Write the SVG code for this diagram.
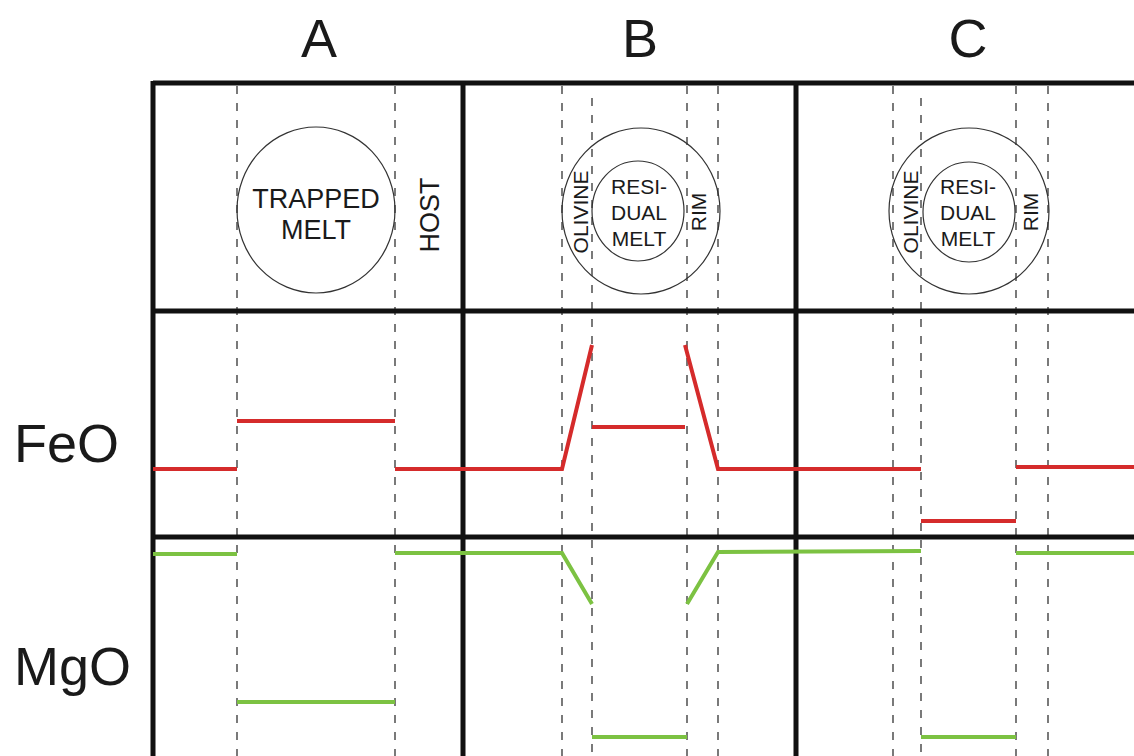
<svg xmlns="http://www.w3.org/2000/svg" width="1134" height="756" viewBox="0 0 1134 756">
<style>
text{font-family:"Liberation Sans",Arial,sans-serif;fill:#1a1a1a}
.hdr{font-size:54px;text-anchor:middle}
.lab{font-size:54px}
.big{font-size:27px;text-anchor:middle}
.sm{font-size:21px;text-anchor:middle}
.frame{stroke:#111;stroke-width:5;fill:none}
.dash{stroke:#333;stroke-width:1.3;stroke-dasharray:8 9;fill:none}
.circ{stroke:#333;stroke-width:1.2;fill:none}
.fe{stroke:#d52b2b;stroke-width:4;fill:none}
.mg{stroke:#7cc242;stroke-width:4;fill:none}
</style>
<rect width="1134" height="756" fill="#fff"/>
<g id="labels">
<text class="hdr" x="319" y="57">A</text>
<text class="hdr" x="640" y="57">B</text>
<text class="hdr" x="968" y="57">C</text>
<text class="lab" x="14" y="462">FeO</text>
<text class="lab" x="14" y="685">MgO</text>
</g>
<g id="dashes">
<line class="dash" x1="237" y1="86" x2="237" y2="756"/>
<line class="dash" x1="395" y1="86" x2="395" y2="756"/>
<line class="dash" x1="562" y1="86" x2="562" y2="756"/>
<line class="dash" x1="592" y1="98" x2="592" y2="756"/>
<line class="dash" x1="687" y1="86" x2="687" y2="756"/>
<line class="dash" x1="718" y1="86" x2="718" y2="756"/>
<line class="dash" x1="893" y1="86" x2="893" y2="756"/>
<line class="dash" x1="921" y1="98" x2="921" y2="756"/>
<line class="dash" x1="1016" y1="86" x2="1016" y2="756"/>
<line class="dash" x1="1048" y1="86" x2="1048" y2="756"/>
</g>
<g id="frame">
<line class="frame" x1="153" y1="83" x2="1134" y2="83"/>
<line class="frame" x1="153" y1="311" x2="1134" y2="311"/>
<line class="frame" x1="153" y1="537" x2="1134" y2="537"/>
<line class="frame" x1="153" y1="81" x2="153" y2="756"/>
<line class="frame" x1="463" y1="81" x2="463" y2="756"/>
<line class="frame" x1="796" y1="81" x2="796" y2="756"/>
</g>
<g id="nodeA">
<ellipse class="circ" cx="316" cy="210" rx="79" ry="83"/>
<text class="big" x="316" y="208">TRAPPED</text>
<text class="big" x="316" y="239">MELT</text>
<text class="big" transform="translate(439,215) rotate(-90)">HOST</text>
</g>
<g id="nodeB">
<ellipse class="circ" cx="641" cy="211" rx="79" ry="83"/>
<ellipse class="circ" cx="638" cy="211" rx="46" ry="50"/>
<text class="sm" x="639" y="194">RESI-</text>
<text class="sm" x="639" y="220">DUAL</text>
<text class="sm" x="639" y="246">MELT</text>
<text class="sm" transform="translate(588,212) rotate(-90)">OLIVINE</text>
<text class="sm" transform="translate(706,212) rotate(-90)">RIM</text>
</g>
<g id="nodeC">
<ellipse class="circ" cx="969" cy="211" rx="80" ry="83"/>
<ellipse class="circ" cx="969" cy="212" rx="46" ry="50"/>
<text class="sm" x="968" y="194">RESI-</text>
<text class="sm" x="968" y="220">DUAL</text>
<text class="sm" x="968" y="246">MELT</text>
<text class="sm" transform="translate(918,212) rotate(-90)">OLIVINE</text>
<text class="sm" transform="translate(1038,212) rotate(-90)">RIM</text>
</g>
<g id="connectors">
<g id="feo">
<polyline class="fe" points="153,469 237,469"/>
<polyline class="fe" points="237,421 395,421"/>
<polyline class="fe" points="395,469 562,469 592,345"/>
<polyline class="fe" points="592,427 685,427"/>
<polyline class="fe" points="685,345 718,469 921,469"/>
<polyline class="fe" points="921,521 1016,521"/>
<polyline class="fe" points="1016,467 1134,467"/>
</g>
<g id="mgo">
<polyline class="mg" points="153,554 237,554"/>
<polyline class="mg" points="237,702 395,702"/>
<polyline class="mg" points="395,553 562,553 592,604"/>
<polyline class="mg" points="592,737 687,737"/>
<polyline class="mg" points="687,604 718,552 921,551"/>
<polyline class="mg" points="921,737 1016,737"/>
<polyline class="mg" points="1016,553 1134,553"/>
</g>
</g>
</svg>
